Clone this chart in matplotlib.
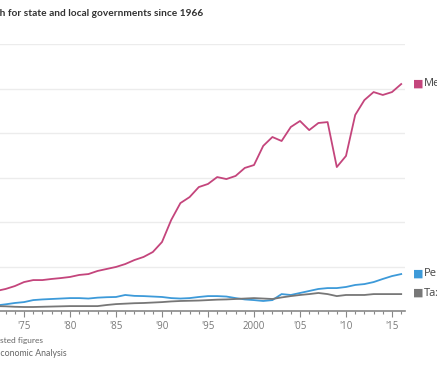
import matplotlib
matplotlib.use("Agg")
import matplotlib.pyplot as plt
from matplotlib.ticker import MultipleLocator, FixedLocator

years = list(range(1966, 2017))
medicaid = [0, 12, 27, 40, 55, 72, 90, 99, 112, 130, 139, 139, 144, 148, 153, 162, 166, 180, 189, 198,
            211, 229, 243, 265, 310, 409, 485, 512, 557, 571, 602, 593, 607, 643, 656, 742, 782, 764, 827,
            854, 813, 845, 849, 647, 697, 881, 948, 984, 971, 984, 1020]
pensions = [0, 3, 6, 9, 13, 18, 25, 30, 36, 40, 49, 52, 54, 56, 58, 58, 56, 60, 62, 63,
            72, 68, 67, 65, 63, 58, 56, 58, 63, 67, 67, 65, 58, 52, 49, 45, 49, 76, 72,
            81, 90, 99, 103, 103, 108, 117, 121, 130, 144, 157, 166]
taxes = [0, 4, 8, 12, 15, 18, 22, 21, 19, 18, 18, 19, 20, 21, 22, 22, 22, 22, 27, 31,
         33, 35, 36, 38, 40, 43, 45, 46, 47, 49, 51, 52, 54, 56, 58, 56, 54, 61, 67,
         72, 76, 81, 76, 67, 72, 72, 72, 76, 76, 76, 76]
series_names = ["Medicaid", "Pensions", "Taxes"]
tick_years = [1975, 1980, 1985, 1990, 1995, 2000, 2005, 2010, 2015]
tick_labels = ["'75", "'80", "'85", "'90", "'95", "2000", "'05", "'10", "'15"]
title = "Spending growth for state and local governments since 1966"
note = "Note: Inflation-adjusted figures"
source = "Source: Bureau of Economic Analysis"

W, H = 437, 365
fig = plt.figure(figsize=(W / 100, H / 100), dpi=100)
fig.patch.set_facecolor("white")

# axes geometry in pixels
x0_year, x1_year = 1965.5, 2016.4
px_per_year = 9.2
left_px = 24 - (1975 - x0_year) * px_per_year
width_px = (x1_year - x0_year) * px_per_year
bottom_px = H - 311
height_px = 267
ax = fig.add_axes([left_px / W, bottom_px / H, width_px / W, height_px / H])
ax.set_xlim(x0_year, x1_year)
ax.set_ylim(0, 1200)

colors = {"Medicaid": "#c4457c", "Pensions": "#3d9ad9", "Taxes": "#777777"}
for name, vals in zip(series_names, [medicaid, pensions, taxes]):
    ax.plot(years, vals, color=colors[name], lw=1.3, solid_joinstyle="round", zorder=3)

ax.set_yticks([200, 400, 600, 800, 1000, 1200])
ax.yaxis.grid(True, color="#ececec", lw=1)
ax.tick_params(axis="y", length=0, labelleft=False)
ax.set_axisbelow(True)

ax.xaxis.set_major_locator(FixedLocator(tick_years))
ax.set_xticklabels(tick_labels)
ax.xaxis.set_minor_locator(MultipleLocator(1))
ax.tick_params(axis="x", which="major", length=4, width=0.8, color="#888888",
               labelsize=7, labelcolor="#777777", pad=3)
ax.tick_params(axis="x", which="minor", length=2.5, width=0.8, color="#888888")
for lab in ax.get_xticklabels():
    lab.set_family("Open Sans")
for s in ["top", "right", "left"]:
    ax.spines[s].set_visible(False)
ax.spines["bottom"].set_color("#888888")
ax.spines["bottom"].set_linewidth(1.2)

# legend labels at right
leg_y = {"Medicaid": 84, "Pensions": 274, "Taxes": 293}
for name in series_names:
    y = 1 - leg_y[name] / H
    fig.text(413 / W, y, "\u25A0", color=colors[name], fontsize=8, va="center", ha="left",
             family="DejaVu Sans")
    fig.text(424 / W, y, name, color="#444444", fontsize=8, va="center", ha="left",
             family="Open Sans")

renderer = fig.canvas.get_renderer()


def width_px_of(s, **kw):
    t = fig.text(0, 0, s, **kw)
    w = t.get_window_extent(renderer).width
    t.remove()
    return w


def cut_text(full, hidden, visible_width, y_px, base_size, **kw):
    """Place `full` so that the part after `hidden` starts at x=0 and is visible_width wide."""
    vis = full[len(hidden):]
    w = width_px_of(vis, fontsize=base_size, **kw)
    size = base_size * visible_width / w
    wh = width_px_of(hidden, fontsize=size, **kw)
    fig.text(-wh / W, 1 - y_px / H, full, fontsize=size, ha="left", va="center", **kw)


cut_text(title, "Spending growt", 205, 14, 8, fontweight="bold", color="#333333", family="Lato")
cut_text(note, "Note: Inflation-adju", 43, 340, 7, color="#666666", family="Lato")
cut_text(source, "Source: Bureau of E", 66, 353, 7, color="#666666", family="Lato")

fig.savefig("out.png", dpi=100, facecolor="white")
